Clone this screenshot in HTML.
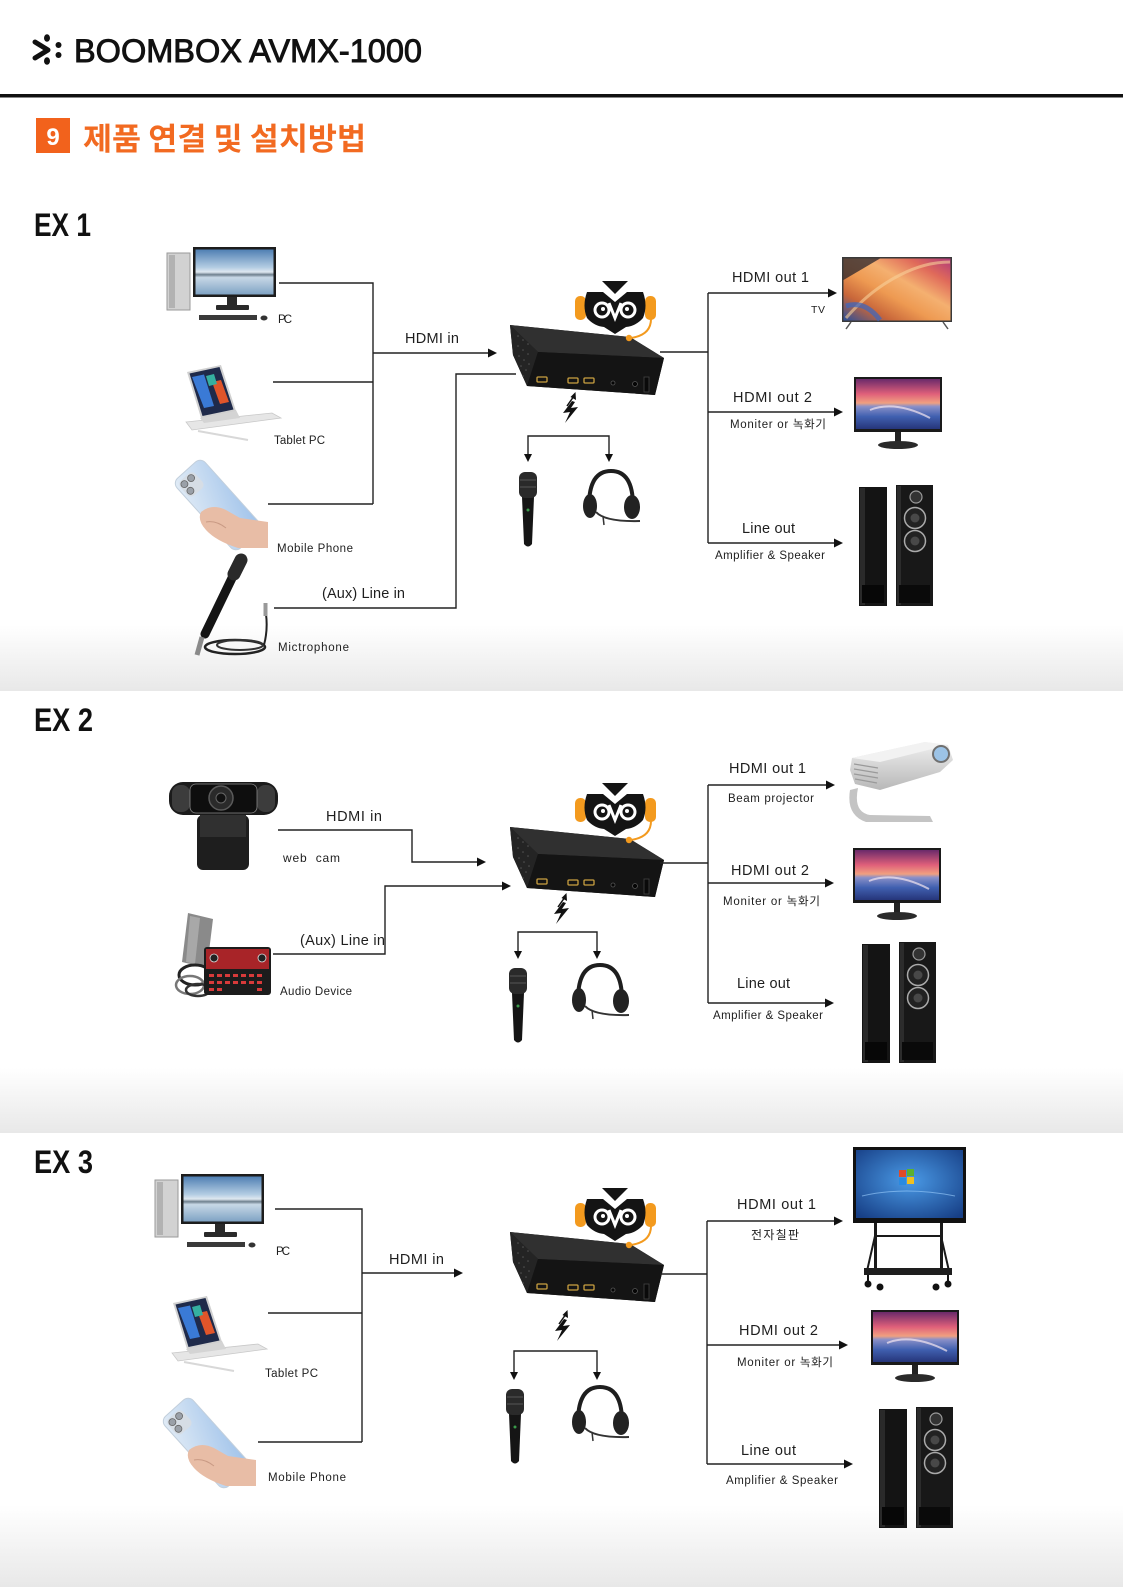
<!DOCTYPE html>
<html><head><meta charset="utf-8">
<style>
html,body{margin:0;padding:0;background:#fff;}
svg{display:block;}
text{font-family:"Liberation Sans","Noto Sans CJK KR",sans-serif;fill:#1e1e1e;}
.l{font-size:14.5px;}
.s{font-size:11.5px;}
.c{stroke:#222;stroke-width:1.4;fill:none;}
</style></head><body>
<svg width="1123" height="1587" viewBox="0 0 1123 1587" xmlns="http://www.w3.org/2000/svg">
<defs>
 <linearGradient id="fade" x1="0" y1="0" x2="0" y2="1"><stop offset="0" stop-color="#ffffff"/><stop offset="1" stop-color="#e8e8e8"/></linearGradient>
 <linearGradient id="sky" x1="0" y1="0" x2="0" y2="1"><stop offset="0" stop-color="#4f7fb3"/><stop offset="0.4" stop-color="#b4cde3"/><stop offset="0.5" stop-color="#dfe8f0"/><stop offset="0.56" stop-color="#6f808e"/><stop offset="0.62" stop-color="#c8d8e6"/><stop offset="1" stop-color="#7fa3c4"/></linearGradient>
 <linearGradient id="tvg" x1="0" y1="1" x2="1" y2="0"><stop offset="0" stop-color="#2a4f9a"/><stop offset="0.22" stop-color="#c8663a"/><stop offset="0.42" stop-color="#ee9a52"/><stop offset="0.6" stop-color="#f4b070"/><stop offset="0.8" stop-color="#e06a5a"/><stop offset="1" stop-color="#b03a7a"/></linearGradient>
 <linearGradient id="mon" x1="0" y1="0" x2="0" y2="1"><stop offset="0" stop-color="#6a2a6a"/><stop offset="0.3" stop-color="#e0607a"/><stop offset="0.48" stop-color="#f0a080"/><stop offset="0.55" stop-color="#8a90c8"/><stop offset="0.75" stop-color="#4060b0"/><stop offset="1" stop-color="#26357a"/></linearGradient>
 <linearGradient id="phg" x1="0" y1="0" x2="1" y2="1"><stop offset="0" stop-color="#e2ecf6"/><stop offset="1" stop-color="#9fc2ea"/></linearGradient>
 <radialGradient id="brd" cx="0.5" cy="0.45" r="0.7"><stop offset="0" stop-color="#4a9ae6"/><stop offset="1" stop-color="#173f86"/></radialGradient>
 <linearGradient id="proj" x1="0" y1="0" x2="0" y2="1"><stop offset="0" stop-color="#f0f0f0"/><stop offset="1" stop-color="#b8b8b8"/></linearGradient>

 <g id="pc">
  <rect x="167" y="253" width="23" height="57" fill="#d2d2d2" stroke="#9a9a9a" stroke-width="1"/>
  <rect x="169" y="255" width="6" height="53" fill="#b2b2b2"/>
  <rect x="193" y="247" width="83" height="50" fill="#1d1d1d"/>
  <rect x="195.5" y="249.5" width="78" height="45" fill="url(#sky)"/>
  <rect x="227" y="297" width="10" height="10" fill="#2a2a2a"/>
  <rect x="216" y="305" width="33" height="5" rx="1" fill="#2a2a2a"/>
  <rect x="199" y="315" width="58" height="5" fill="#3a3a3a"/>
  <ellipse cx="264" cy="318" rx="3.5" ry="2.5" fill="#333"/>
 </g>

 <g id="tab">
  <polygon points="186,422 272,413 281,418 192,430" fill="#e6e6e6" stroke="#c8c8c8" stroke-width="0.8"/>
  <polygon points="200,418 236,410 240,418 204,423" fill="#d4d4d4"/>
  <polygon points="187,372 221,365 236,411 201,418" fill="#d0d0d0"/>
  <polygon points="189.5,373.5 219.5,367 233.5,409.5 202.5,416" fill="#1f2a4a"/>
  <polygon points="192,377 204,374.5 214,406 204,408" fill="#3a7ad6"/>
  <polygon points="212,382 221,380 229,402 220,404" fill="#e0552a"/>
  <polygon points="206,376 214,374 217,384 209,386" fill="#35b0a0"/>
  <line x1="198" y1="431" x2="248" y2="440" stroke="#d8d8d8" stroke-width="2"/>
 </g>

 <g id="ph">
  <g transform="rotate(-42 218 505)">
   <rect x="199" y="458" width="38" height="94" rx="7" fill="url(#phg)" stroke="#c2cfdc" stroke-width="1"/>
   <rect x="202" y="462" width="20" height="20" rx="5" fill="#d6dde5"/>
   <circle cx="207" cy="467" r="3.5" fill="#9aa0a8" stroke="#666" stroke-width="0.8"/>
   <circle cx="216" cy="467" r="3.5" fill="#9aa0a8" stroke="#666" stroke-width="0.8"/>
   <circle cx="207" cy="476" r="3.5" fill="#9aa0a8" stroke="#666" stroke-width="0.8"/>
  </g>
  <path d="M201,512 Q212,503 226,510 L240,518 L268,522 L268,548 L238,548 Q216,541 206,530 Q197,520 201,512 Z" fill="#e8bda6"/>
  <path d="M206,522 Q216,520 226,528" stroke="#c99a84" stroke-width="1" fill="none"/>
 </g>

 <g id="mon1">
  <rect x="854" y="377" width="88" height="55" fill="#1a1a1a"/>
  <rect x="856" y="379" width="84" height="50" fill="url(#mon)"/>
  <path d="M870,410 Q895,400 930,418" stroke="#f4e6f0" stroke-width="2" fill="none" opacity="0.7"/>
  <rect x="895" y="432" width="6" height="11" fill="#222"/>
  <ellipse cx="898" cy="445" rx="20" ry="4" fill="#2a2a2a"/>
 </g>

 <g id="spk">
  <rect x="859" y="487" width="28" height="119" fill="#141414"/>
  <rect x="860" y="488" width="5" height="117" fill="#2a2a2a"/>
  <rect x="862" y="585" width="22" height="18" fill="#070707"/>
  <rect x="896" y="485" width="37" height="121" fill="#181818"/>
  <rect x="897" y="486" width="4" height="119" fill="#2c2c2c"/>
  <circle cx="916" cy="497" r="6" fill="#333" stroke="#9a9a9a" stroke-width="1.2"/>
  <circle cx="915" cy="518" r="10.5" fill="#222" stroke="#aaa" stroke-width="1.5"/>
  <circle cx="915" cy="518" r="4.5" fill="#484848"/>
  <circle cx="915" cy="541" r="10.5" fill="#222" stroke="#aaa" stroke-width="1.5"/>
  <circle cx="915" cy="541" r="4.5" fill="#484848"/>
  <rect x="899" y="585" width="31" height="18" fill="#0a0a0a"/>
 </g>

 <g id="mic">
  <path d="M522,497 L534,497 L532,544 Q528,549 524,544 Z" fill="#151515"/>
  <rect x="519" y="472" width="18" height="26" rx="6" fill="#2a2a2a"/>
  <line x1="520" y1="480" x2="536" y2="480" stroke="#555" stroke-width="1"/>
  <line x1="520" y1="487" x2="536" y2="487" stroke="#555" stroke-width="1"/>
  <circle cx="528" cy="510" r="1.5" fill="#3a9a4a"/>
 </g>

 <g id="hs">
  <path d="M589,506 Q589,471 611,471 Q633,471 633,506" stroke="#1e1e1e" stroke-width="4" fill="none"/>
  <ellipse cx="590" cy="506" rx="7" ry="12" fill="#222"/>
  <ellipse cx="632" cy="507" rx="8" ry="12" fill="#222"/>
  <path d="M596,512 Q605,522 640,521" stroke="#333" stroke-width="2" fill="none"/>
  <line x1="603" y1="516" x2="604" y2="525" stroke="#333" stroke-width="1.5"/>
 </g>

 <g id="bolt">
  <line x1="567" y1="406" x2="574" y2="396" stroke="#111" stroke-width="1.5"/>
  <polygon points="575.5,392 576,400 570.5,397" fill="#111"/>
  <polygon points="572,401 563,413 570,412 565,423 578,407 571,408 575,402" fill="#111"/>
 </g>

 <g id="box">
  <polygon points="510,325 630,337 664,358 655,395 527,386 513,355" fill="#181818"/>
  <polygon points="510,325 630,337 664,358 538,352" fill="#303030"/>
  <polygon points="510,325 538,352 527,386 513,355" fill="#242424"/>
  <polygon points="538,352 664,358 655,395 527,386" fill="#141414"/>
  <g fill="#555">
   <circle cx="518" cy="336" r="0.8"/><circle cx="523" cy="340" r="0.8"/><circle cx="528" cy="344" r="0.8"/>
   <circle cx="518" cy="346" r="0.8"/><circle cx="523" cy="350" r="0.8"/><circle cx="528" cy="354" r="0.8"/>
   <circle cx="519" cy="356" r="0.8"/><circle cx="524" cy="360" r="0.8"/><circle cx="529" cy="364" r="0.8"/>
   <circle cx="521" cy="366" r="0.8"/><circle cx="526" cy="370" r="0.8"/><circle cx="523" cy="376" r="0.8"/>
  </g>
  <rect x="537" y="377" width="10" height="5" rx="1" fill="none" stroke="#c9a040" stroke-width="1.3"/>
  <rect x="568" y="378" width="10" height="5" rx="1" fill="none" stroke="#c9a040" stroke-width="1.3"/>
  <rect x="584" y="378" width="10" height="5" rx="1" fill="none" stroke="#c9a040" stroke-width="1.3"/>
  <circle cx="613" cy="383" r="2" fill="#050505" stroke="#555" stroke-width="0.8"/>
  <circle cx="635" cy="384" r="2.5" fill="#050505" stroke="#555" stroke-width="0.8"/>
  <rect x="644" y="377" width="5" height="15" fill="#0a0a0a" stroke="#444" stroke-width="0.8"/>
  <!-- owl -->
  <rect x="575" y="296" width="11" height="24" rx="5" fill="#f39a1e"/>
  <rect x="645" y="296" width="11" height="24" rx="5" fill="#f39a1e"/>
  <path d="M587,292 L603,292 L615,302 L627,292 L643,292 Q648,306 643,318 Q636,326 626,327 L615,334 L604,327 Q594,326 587,318 Q582,306 587,292 Z" fill="#141414"/>
  <polygon points="602,281 628,281 615,294" fill="#141414"/>
  <circle cx="602" cy="310" r="8.5" fill="#fff"/>
  <circle cx="628" cy="310" r="8.5" fill="#fff"/>
  <circle cx="602" cy="310" r="5.5" fill="#141414"/>
  <circle cx="628" cy="310" r="5.5" fill="#141414"/>
  <circle cx="603" cy="309" r="2" fill="#fff"/>
  <circle cx="627" cy="309" r="2" fill="#fff"/>
  <path d="M609,303 L615,318 L621,303" stroke="#fff" stroke-width="3" fill="none"/>
  <path d="M651,319 Q651,335 631,338" stroke="#f39a1e" stroke-width="2" fill="none"/>
  <circle cx="629" cy="338" r="3.2" fill="#f39a1e"/>
 </g>
</defs>

<rect width="1123" height="1587" fill="#fff"/>
<rect x="0" y="625" width="1123" height="66" fill="url(#fade)"/>
<rect x="0" y="1068" width="1123" height="65" fill="url(#fade)"/>
<rect x="0" y="1505" width="1123" height="82" fill="url(#fade)"/>

<!-- header -->
<path d="M35,42 L48,50 L35,58" stroke="#111" stroke-width="5" fill="none" stroke-linecap="round" stroke-linejoin="round"/>
<ellipse cx="47" cy="38" rx="3" ry="3.8" fill="#111"/>
<ellipse cx="47" cy="61" rx="3" ry="3.8" fill="#111"/>
<circle cx="58.5" cy="45" r="3" fill="#111"/>
<circle cx="58.5" cy="55" r="3" fill="#111"/>
<text x="74" y="62" font-size="32.5" style="fill:#111;stroke:#111;stroke-width:0.9">BOOMBOX AVMX-1000</text>
<rect x="0" y="94" width="1123" height="3.5" fill="#111"/>
<rect x="36" y="118" width="34" height="35" fill="#f2621c"/>
<text x="53" y="145" font-size="24" font-weight="bold" text-anchor="middle" style="fill:#fff">9</text>
<text x="83" y="150" font-size="31" font-weight="bold" textLength="283" lengthAdjust="spacingAndGlyphs" style="fill:#f26a21;font-family:'Noto Sans CJK KR','Liberation Sans',sans-serif">제품 연결 및 설치방법</text>

<text x="34" y="236" font-size="32" font-weight="bold" textLength="57" lengthAdjust="spacingAndGlyphs" style="fill:#111">EX 1</text>
<text x="34" y="731" font-size="32" font-weight="bold" textLength="59" lengthAdjust="spacingAndGlyphs" style="fill:#111">EX 2</text>
<text x="34" y="1173" font-size="32" font-weight="bold" textLength="59" lengthAdjust="spacingAndGlyphs" style="fill:#111">EX 3</text>

<!-- ================= EX1 ================= -->
<use href="#pc"/>
<use href="#tab"/>
<use href="#ph"/>
<g>
 <path d="M205,634 L233,576" stroke="#151515" stroke-width="9" stroke-linecap="round"/>
 <path d="M234,574 L241,560" stroke="#2a2a2a" stroke-width="13" stroke-linecap="round"/>
 <path d="M202,637 L197,655" stroke="#8a8a8a" stroke-width="5"/>
 <ellipse cx="235" cy="647" rx="30" ry="7" fill="none" stroke="#222" stroke-width="2.5"/>
 <ellipse cx="240" cy="645" rx="23" ry="5" fill="none" stroke="#333" stroke-width="2"/>
 <path d="M264,645 Q268,630 266,614" stroke="#222" stroke-width="2" fill="none"/>
 <rect x="263.5" y="603" width="4" height="13" fill="#999"/>
</g>
<text class="s" x="278" y="323" textLength="14">PC</text>
<text class="s" x="274" y="444" textLength="51">Tablet PC</text>
<text class="s" x="277" y="552" textLength="76">Mobile Phone</text>
<text class="s" x="278" y="651" textLength="71">Mictrophone</text>

<path class="c" d="M279,283 H373 V504 M273,382 H373 M268,504 H373 M373,353 H489"/>
<polygon points="488,348.5 497,353 488,357.5" fill="#111"/>
<text class="l" x="405" y="343" textLength="54">HDMI in</text>
<path class="c" d="M274,608 H456 V374 H516"/>
<text class="l" x="322" y="598" textLength="83">(Aux) Line in</text>

<use href="#box"/>
<use href="#bolt"/>
<path class="c" d="M528,455 V436 H609 V455"/>
<polygon points="524,454 532,454 528,462" fill="#111"/>
<polygon points="605,454 613,454 609,462" fill="#111"/>
<use href="#mic"/>
<use href="#hs"/>

<path class="c" d="M660,352 H708 M708,293 V543 M708,293 H829 M708,412 H835 M708,543 H835"/>
<polygon points="828,288.5 837,293 828,297.5" fill="#111"/>
<polygon points="834,407.5 843,412 834,416.5" fill="#111"/>
<polygon points="834,538.5 843,543 834,547.5" fill="#111"/>
<text class="l" x="732" y="282" textLength="77">HDMI out 1</text>
<text x="811" y="313" font-size="10.5" textLength="14">TV</text>
<text class="l" x="733" y="402" textLength="79">HDMI out 2</text>
<text class="s" x="730" y="428" textLength="96">Moniter or 녹화기</text>
<text class="l" x="742" y="533" textLength="53">Line out</text>
<text class="s" x="715" y="559" textLength="110">Amplifier &amp; Speaker</text>

<!-- TV -->
<rect x="842" y="257" width="110" height="65" fill="#3a3a3a"/>
<rect x="843.5" y="258.5" width="107" height="62" fill="url(#tvg)"/>
<polygon points="843.5,258.5 880,258.5 843.5,280" fill="#1d1d2a" opacity="0.7"/>
<path d="M846,318 Q870,290 900,275 Q925,262 950,262" stroke="#f8d09a" stroke-width="3" fill="none" opacity="0.6"/>
<path d="M846,306 Q865,300 880,320" stroke="#3a66c0" stroke-width="5" fill="none" opacity="0.7"/>
<line x1="851" y1="322" x2="846" y2="329" stroke="#555" stroke-width="1.5"/>
<line x1="943" y1="322" x2="948" y2="329" stroke="#555" stroke-width="1.5"/>
<use href="#mon1"/>
<use href="#spk"/>

<!-- ================= EX2 ================= -->
<!-- webcam -->
<rect x="169" y="782" width="109" height="33" rx="14" fill="#1b1b1b"/>
<rect x="172" y="785" width="18" height="27" rx="8" fill="#3c3c3c"/>
<rect x="257" y="785" width="18" height="27" rx="8" fill="#3c3c3c"/>
<rect x="190" y="784" width="67" height="29" rx="6" fill="#0e0e0e" stroke="#888" stroke-width="0.8"/>
<circle cx="221" cy="798" r="12" fill="#2a2a2a" stroke="#5a5a5a" stroke-width="1.5"/>
<circle cx="221" cy="798" r="5" fill="#111" stroke="#666" stroke-width="1"/>
<rect x="197" y="815" width="52" height="55" rx="6" fill="#1e1e1e"/>
<rect x="200" y="815" width="46" height="22" fill="#303030"/>
<!-- audio device -->
<polygon points="188,913 213,919 207,968 182,962" fill="#8a8a8a"/>
<polygon points="190,916 200,918 195,964 186,962" fill="#a8a8a8"/>
<ellipse cx="195" cy="975" rx="16" ry="10" fill="none" stroke="#222" stroke-width="3"/>
<ellipse cx="190" cy="985" rx="14" ry="9" fill="none" stroke="#777" stroke-width="2.5"/>
<ellipse cx="198" cy="990" rx="12" ry="6" fill="none" stroke="#333" stroke-width="2.5"/>
<rect x="204" y="947" width="67" height="48" rx="3" fill="#1c1c1c"/>
<rect x="206" y="949" width="63" height="20" fill="#a82428"/>
<g fill="#d83a3a">
 <rect x="209" y="974" width="5" height="3"/><rect x="217" y="974" width="5" height="3"/><rect x="225" y="974" width="5" height="3"/><rect x="233" y="974" width="5" height="3"/><rect x="241" y="974" width="5" height="3"/><rect x="249" y="974" width="5" height="3"/><rect x="257" y="974" width="5" height="3"/>
 <rect x="209" y="981" width="5" height="3"/><rect x="217" y="981" width="5" height="3"/><rect x="225" y="981" width="5" height="3"/><rect x="233" y="981" width="5" height="3"/><rect x="241" y="981" width="5" height="3"/><rect x="249" y="981" width="5" height="3"/><rect x="257" y="981" width="5" height="3"/>
 <rect x="209" y="988" width="5" height="3"/><rect x="217" y="988" width="5" height="3"/><rect x="257" y="988" width="5" height="3"/>
</g>
<circle cx="214" cy="958" r="4" fill="#222" stroke="#ddd" stroke-width="0.8"/>
<circle cx="262" cy="958" r="4" fill="#222" stroke="#ddd" stroke-width="0.8"/>

<text class="l" x="326" y="821" textLength="56">HDMI in</text>
<text x="283" y="862" font-size="12" textLength="57">web&#160;&#160;cam</text>
<text class="l" x="300" y="945" textLength="85">(Aux) Line in</text>
<text class="s" x="280" y="995" textLength="72">Audio Device</text>

<path class="c" d="M278,830 H412 V862 H478 M273,954 H385 V886 H503"/>
<polygon points="477,857.5 486,862 477,866.5" fill="#111"/>
<polygon points="502,881.5 511,886 502,890.5" fill="#111"/>

<use href="#box" transform="translate(0,502)"/>
<use href="#bolt" transform="translate(-9,501)"/>
<path class="c" d="M518,952 V932 H597 V952"/>
<polygon points="514,951 522,951 518,959" fill="#111"/>
<polygon points="593,951 601,951 597,959" fill="#111"/>
<use href="#mic" transform="translate(-10,496)"/>
<use href="#hs" transform="translate(-11,494)"/>

<path class="c" d="M660,863 H708 M708,785 V1003 M708,785 H827 M708,883 H826 M708,1003 H826"/>
<polygon points="826,780.5 835,785 826,789.5" fill="#111"/>
<polygon points="825,878.5 834,883 825,887.5" fill="#111"/>
<polygon points="825,998.5 834,1003 825,1007.5" fill="#111"/>
<text class="l" x="729" y="773" textLength="77">HDMI out 1</text>
<text class="s" x="728" y="802" textLength="86">Beam projector</text>
<text class="l" x="731" y="875" textLength="78">HDMI out 2</text>
<text class="s" x="723" y="905" textLength="97">Moniter or 녹화기</text>
<text class="l" x="737" y="988" textLength="53">Line out</text>
<text class="s" x="713" y="1019" textLength="110">Amplifier &amp; Speaker</text>

<!-- projector -->
<path d="M858,788 Q853,812 870,815 L930,816 L933,822 L866,822 Q846,815 850,790 Z" fill="#c4c4c4"/>
<path d="M850,770 L852,758 L925,742 L948,745 L953,760 L940,772 L880,790 L855,784 Z" fill="url(#proj)"/>
<path d="M852,758 L925,742 L948,745 L880,762 Z" fill="#f2f2f2"/>
<g stroke="#9a9a9a" stroke-width="1.2">
 <line x1="854" y1="764" x2="878" y2="768"/><line x1="854" y1="769" x2="878" y2="773"/><line x1="854" y1="774" x2="878" y2="778"/><line x1="855" y1="779" x2="877" y2="783"/>
</g>
<circle cx="941" cy="754" r="8" fill="#9cc3e6" stroke="#707070" stroke-width="2"/>
<use href="#mon1" transform="translate(-1,471)"/>
<use href="#spk" transform="translate(3,457)"/>

<!-- ================= EX3 ================= -->
<use href="#pc" transform="translate(-12,927)"/>
<use href="#tab" transform="translate(-14,931)"/>
<use href="#ph" transform="translate(-12,938)"/>
<text class="s" x="276" y="1255" textLength="14">PC</text>
<text class="s" x="265" y="1377" textLength="53">Tablet PC</text>
<text class="s" x="268" y="1481" textLength="78">Mobile Phone</text>

<path class="c" d="M275,1209 H362 V1442 M268,1313 H362 M258,1442 H362 M362,1273 H455"/>
<polygon points="454,1268.5 463,1273 454,1277.5" fill="#111"/>
<text class="l" x="389" y="1264" textLength="55">HDMI in</text>

<use href="#box" transform="translate(0,907)"/>
<use href="#bolt" transform="translate(-8,918)"/>
<path class="c" d="M514,1373 V1351 H597 V1373"/>
<polygon points="510,1372 518,1372 514,1380" fill="#111"/>
<polygon points="593,1372 601,1372 597,1380" fill="#111"/>
<use href="#mic" transform="translate(-13,917)"/>
<use href="#hs" transform="translate(-11,916)"/>

<path class="c" d="M660,1274 H707 M707,1221 V1464 M707,1221 H835 M707,1345 H840 M707,1464 H845"/>
<polygon points="834,1216.5 843,1221 834,1225.5" fill="#111"/>
<polygon points="839,1340.5 848,1345 839,1349.5" fill="#111"/>
<polygon points="844,1459.5 853,1464 844,1468.5" fill="#111"/>
<text class="l" x="737" y="1209" textLength="79">HDMI out 1</text>
<text x="751" y="1239" font-size="12" textLength="48">전자칠판</text>
<text class="l" x="739" y="1335" textLength="79">HDMI out 2</text>
<text class="s" x="737" y="1366" textLength="96">Moniter or 녹화기</text>
<text class="l" x="741" y="1455" textLength="55">Line out</text>
<text class="s" x="726" y="1484" textLength="112">Amplifier &amp; Speaker</text>

<!-- smart board -->
<rect x="853" y="1147" width="113" height="76" fill="#111"/>
<rect x="856" y="1150" width="107" height="68" fill="url(#brd)"/>
<rect x="899" y="1170" width="7" height="7" fill="#e04a2a"/>
<rect x="907" y="1169" width="7" height="7" fill="#5cb030"/>
<rect x="899" y="1178" width="7" height="7" fill="#2a8ae0"/>
<rect x="907" y="1177" width="7" height="7" fill="#f0c020"/>
<path d="M862,1196 Q905,1186 955,1196" stroke="#9fd0ff" stroke-width="1" fill="none" opacity="0.6"/>
<rect x="874" y="1223" width="3" height="50" fill="#1a1a1a"/>
<rect x="940" y="1223" width="3" height="50" fill="#1a1a1a"/>
<path d="M875,1236 H941 M875,1236 L867,1271 M941,1236 L949,1271" stroke="#1a1a1a" stroke-width="2" fill="none"/>
<rect x="864" y="1268" width="88" height="7" fill="#1e1e1e"/>
<circle cx="868" cy="1284" r="3.5" fill="#111"/>
<circle cx="948" cy="1284" r="3.5" fill="#111"/>
<circle cx="880" cy="1287" r="3.5" fill="#111"/>
<circle cx="936" cy="1287" r="3.5" fill="#111"/>
<line x1="868" y1="1275" x2="868" y2="1281" stroke="#111" stroke-width="2"/>
<line x1="948" y1="1275" x2="948" y2="1281" stroke="#111" stroke-width="2"/>
<use href="#mon1" transform="translate(17,933)"/>
<use href="#spk" transform="translate(20,922)"/>
</svg>
</body></html>
